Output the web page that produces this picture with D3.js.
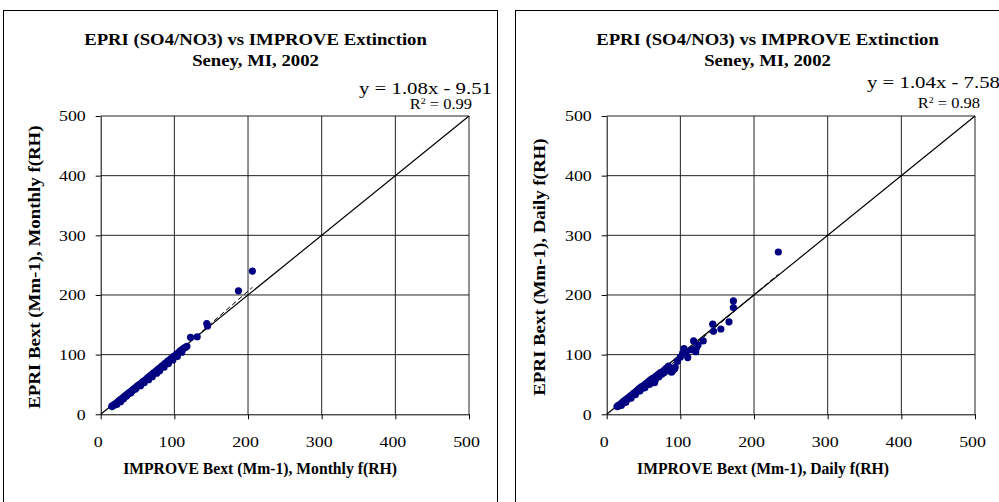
<!DOCTYPE html>
<html>
<head>
<meta charset="utf-8">
<script src="https://cdn.jsdelivr.net/npm/d3@7"></script>
<style>
  body { margin: 0; background: #fff; }
  svg text { font-family: "Liberation Serif", "Times New Roman", serif; fill: #000; }
</style>
</head>
<body>
<div id="chart"></div>
<script>
'use strict'

// ---- data ----
const ticks = [0, 100, 200, 300, 400, 500]

// monthly f(RH): [IMPROVE, EPRI]
const monthlyPts = [
  [15,13.5],[16,14],[17,15],[18,15.5],[19,16.5],[20,17],[21,18.5],[22,19],[23,20.5],[24,21],
  [25,22.5],[26,23],[27,24.5],[28,25],[29,26.5],[30,27],[31,28],[32,29.5],[33,30],[34,31],
  [35,32.5],[36,33],[37,34.5],[38,35],[39,36],[40,37.5],[42,39],[43,40],[44,41.5],[45,42],
  [46,43.5],[48,45],[49,46],[50,47.5],[52,49],[53,50],[55,52],[57,54.5],[58,55],[60,57],
  [62,59],[64,61.5],[66,62],[67,64.5],[69,66],[71,68.5],[73,70],[75,72.5],[77,74],[79,76.5],
  [81,78],[83,81],[85,82],[87,85],[89,86],[91,89],[93,90],[95,93],[97,94],[99,97],
  [101,98],[103,101],[105,102],[107,105],[109,107],[111,109],[113,111],
  [22,17],[27,21],[31,26],[35,30.5],[41,36],[47,42],[54,48],[59,53],[65,58],[70,63],
  [76,69],[80,73],[86,79],[92,85],[98,91],[104,97],[110,104],[115,112],[117,114],
  [122,129],[131,130],[144,152],[145,148],[187,207],[206,240]
]

// daily f(RH): [IMPROVE, EPRI]
const dailyPts = [
  [14,13],[15,14],[16,14],[17,15.5],[18,16],[19,17],[20,18.5],[21,19],[22,20],[23,21.5],
  [24,22],[25,24],[26,23],[27,25],[28,26.5],[29,26],[30,28],[31,29],[32,30],[33,31.5],
  [34,31],[35,33],[36,34],[37,35.5],[38,35],[39,37],[40,38],[41,39.5],[42,40],[43,41],
  [44,43],[45,42],[46,44],[47,46],[48,45],[49,47],[50,44],[51,49],[52,48],[53,51],
  [55,52],[56,54],[57,52],[58,56],[59,55],[60,58],[61,57.5],[62,60],[63,56],[64,61],
  [65,53],[66,58],[67,64],[68,62],[70,67],[72,68],[73,70],[75,67.5],[77,73],[80,76],
  [82,78],[84,81],[86,72],[88,70.5],[90,74],[92,76],[93,79],[96,89],[100,96],[103,102],
  [105,110],[108,104],[110,95],[115,108],[118,123],[121,105],[122,112],[124,116],[131,123],
  [20,15],[26,20],[33,27],[39,33],[45,39],[52,45],[58,50],[64,55],[71,63],[78,70],
  [144,151],[145,139],[155,143],[166,155],[172,179],[172,190],[233,272]
]

const titleLines = ["EPRI (SO4/NO3) vs IMPROVE Extinction", "Seney, MI, 2002"]

const panels = [
  {pts: monthlyPts, fit: [1.08, -9.51], eq: "y = 1.08x - 9.51", r2: "0.99",
   xTitle: "IMPROVE Bext (Mm-1), Monthly f(RH)", yTitle: "EPRI Bext (Mm-1), Monthly f(RH)",
   box: [3.5, 10.5, 494], plot: [100.7, 116, 368.3, 298.3], eqX: 492, eqY: 94, r2X: 472, r2Y: 108,
   xTitleX: 260, yTitleX: 40},
  {pts: dailyPts, fit: [1.04, -7.58], eq: "y = 1.04x - 7.58", r2: "0.98",
   xTitle: "IMPROVE Bext (Mm-1), Daily f(RH)", yTitle: "EPRI Bext (Mm-1), Daily f(RH)",
   box: [515.5, 10.5, 500], plot: [606.7, 116, 368.3, 298.3], eqX: 1000, eqY: 88, r2X: 980, r2Y: 107,
   xTitleX: 763, yTitleX: 545}
]

// ---- svg ----
const W = 999, H = 502
const svg = d3.select('#chart').append('svg')
    .attr('width', W).attr('height', H)

// text with a horizontal stretch (the source glyphs are wider than tall)
function stext(g, x, y, str, size, sx, anchor, bold) {
    return g.append('text')
        .attr('transform', `translate(${x},${y}) scale(${sx},1)`)
        .attr('text-anchor', anchor)
        .style('font-size', size + 'px')
        .style('font-weight', bold ? 'bold' : 'normal')
        .text(str)
}

panels.forEach(p => {
    const g = svg.append('g')
    const cx = p.box[0] + 247

    // chart border
    g.append('rect')
        .attr('x', p.box[0]).attr('y', p.box[1])
        .attr('width', p.box[2]).attr('height', 520)
        .attr('fill', 'none').attr('stroke', '#000').attr('stroke-width', 1)

    const [px, py, pw, ph] = p.plot
    const x = d3.scaleLinear().domain([0, 500]).range([px, px + pw])
    const y = d3.scaleLinear().domain([0, 500]).range([py + ph, py])

    // gridlines
    g.append('g').selectAll('line')
        .data(ticks.slice(1))
        .join('line')
        .attr('x1', d => x(d)).attr('x2', d => x(d))
        .attr('y1', py).attr('y2', py + ph)
        .attr('stroke', '#222').attr('stroke-width', 1)
    g.append('g').selectAll('line')
        .data(ticks.slice(1))
        .join('line')
        .attr('x1', px).attr('x2', px + pw)
        .attr('y1', d => y(d)).attr('y2', d => y(d))
        .attr('stroke', '#222').attr('stroke-width', 1)

    // axes
    const tsx = 1.15
    const xAxis = g.append('g')
        .attr('transform', `translate(0,${py + ph})`)
        .call(d3.axisBottom(x).tickValues(ticks).tickSize(5).tickPadding(17).tickSizeOuter(0))
    const yAxis = g.append('g')
        .attr('transform', `translate(${px},0)`)
        .call(d3.axisLeft(y).tickValues(ticks).tickSize(5).tickPadding(10).tickSizeOuter(0))
    ;[xAxis, yAxis].forEach(a => {
        a.selectAll('text')
            .style('font-family', '"Liberation Serif", serif').style('font-size', '15.5px')
            .attr('fill', '#000')
        a.selectAll('line, path').attr('stroke', '#000')
    })
    xAxis.selectAll('text').attr('transform', `translate(-3,0) scale(${tsx},1)`)
    yAxis.selectAll('text').attr('x', -15 / tsx).attr('transform', `scale(${tsx},1)`)

    // 1:1 line
    g.append('line')
        .attr('x1', x(0)).attr('y1', y(0)).attr('x2', x(500)).attr('y2', y(500))
        .attr('stroke', '#000').attr('stroke-width', 1.2)

    // trend line over the data range
    const xr = d3.extent(p.pts, d => d[0])
    g.append('line')
        .attr('x1', x(xr[0])).attr('y1', y(p.fit[0] * xr[0] + p.fit[1]))
        .attr('x2', x(xr[1])).attr('y2', y(p.fit[0] * xr[1] + p.fit[1]))
        .attr('stroke', '#000').attr('stroke-width', 1)
        .attr('stroke-dasharray', '5,3')

    // points
    g.append('g').selectAll('circle')
        .data(p.pts)
        .join('circle')
        .attr('cx', d => x(d[0])).attr('cy', d => y(d[1]))
        .attr('r', 3.6)
        .attr('fill', '#000080')

    // titles
    titleLines.forEach((t, i) => stext(g, cx + 5, 45 + i * 21, t, 17, 1.1, 'middle', true))

    // equation + R2
    stext(g, p.eqX, p.eqY, p.eq, 16, 1.3, 'end', false)
    const r2 = g.append('text')
        .attr('transform', `translate(${p.r2X},${p.r2Y + 1}) scale(1.1,1)`)
        .attr('text-anchor', 'end').style('font-size', '15px')
    r2.append('tspan').text('R')
    r2.append('tspan').attr('dy', -5).style('font-size', '9px').text('2')
    r2.append('tspan').attr('dy', 5).text(' = ' + p.r2)

    // axis titles
    stext(g, p.xTitleX, 474, p.xTitle, 16, 0.98, 'middle', true)
    g.append('text')
        .attr('transform', `translate(${p.yTitleX},${py + ph / 2 + 2}) rotate(-90) scale(1.18,1)`)
        .attr('text-anchor', 'middle')
        .style('font-size', '16px').style('font-weight', 'bold')
        .text(p.yTitle)
})
</script>
</body>
</html>
